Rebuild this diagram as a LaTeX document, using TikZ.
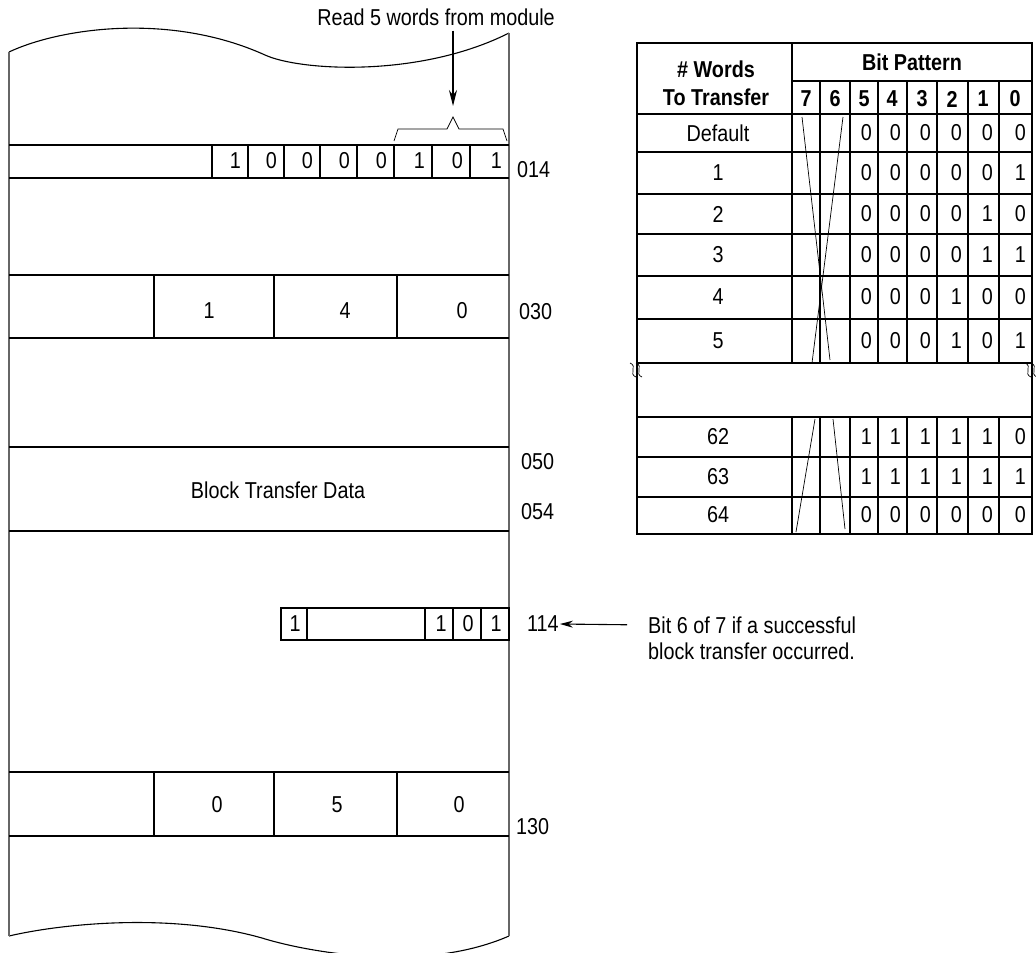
\documentclass[tikz,border=0pt]{standalone}
\usepackage{fontspec}
\setmainfont{Liberation Sans}[FakeStretch=0.86]
\usetikzlibrary{arrows.meta,positioning}

% small break mark on a table border
\newcommand{\brkmark}[2]{%
  \foreach \dx in {-3,3}
    \draw[thinln] ({#1+\dx-3},{#2-7}) .. controls ({#1+\dx+5},{#2-4}) and ({#1+\dx-5},{#2+4}) .. ({#1+\dx+3},{#2+7});}

\begin{document}
\begin{tikzpicture}[
  x=1pt, y=-1pt,
  >=Stealth,
  every node/.style={font=\fontsize{23}{27}\selectfont, inner sep=0pt},
  hd/.style={font=\fontsize{23}{27}\selectfont\bfseries},
  ln/.style={line width=1.1pt},
  bord/.style={line width=1.5pt, black!60},
  thinln/.style={line width=0.7pt},
  arr/.style={-{Stealth[length=16pt,width=8pt]}, line width=1.1pt},
  arrs/.style={-{Stealth[length=13pt,width=7pt]}, line width=1.1pt}
]
\useasboundingbox (0,0) rectangle (1036,953);

%% Memory block outline
\draw[ln] (9,52) .. controls (60,28) and (170,12) .. (265,55)
          .. controls (300,71) and (420,78) .. (509,33);
\draw[ln] (9,936) .. controls (60,924) and (170,912) .. (262,938)
          .. controls (300,950) and (420,975) .. (509,936);
\draw[bord] (9,52) -- (9,936);
\draw[bord] (509,33) -- (509,936);

%% Word boundaries
\foreach \y in {145,178,275,338,447,531,772,836}
  \draw[ln] (9,\y) -- (509,\y);

%% Word 014
\foreach \x in {212,248,284,320,357,394,432,470}
  \draw[ln] (\x,145) -- (\x,178);
\foreach \xr/\d [count=\i] in {248/1,284/0,320/0,357/0,394/0,432/1,470/0,509/1}
  \node[anchor=east] (wa\i) at (\xr-7,161) {\d};
\node[anchor=west] (l014) at (517,170) {014};

%% Brace and read arrow
\draw[thinln] (394,141) -- (398,129) -- (447,129) -- (453,117) -- (459,129)
              -- (503,129) -- (507,141);
\coordinate (brtip) at (453,106);
\node (rdtitle) at (436,17) {Read 5 words from module};
\draw[arr, shorten <=5pt] (rdtitle.south -| brtip) -- (brtip);

%% Word 030
\foreach \x in {154,274,397}
  \draw[ln] (\x,275) -- (\x,338);
\node (wb1) at (209,311) {1};
\node (wb2) at (345,311) {4};
\node (wb3) at (462,311) {0};
\node[anchor=west] (l030) at (519,312) {030};

%% Block transfer data
\node (btd) at (278,490) {Block Transfer Data};
\node[anchor=west] (l050) at (521,462) {050};
\node[anchor=west] (l054) at (521,512) {054};

%% Word 114
\draw[ln] (281,608) rectangle (509,640);
\foreach \x in {307,425,453,481}
  \draw[ln] (\x,608) -- (\x,640);
\node (wc1) at (295,624) {1};
\node (wc2) at (441,624) {1};
\node (wc3) at (468,624) {0};
\node (wc4) at (496,624) {1};
\node[anchor=west] (l114) at (527,624) {114};
\node[anchor=west] (note1) at (648,625) {Bit 6 of 7 if a successful};
\node[anchor=west] (note2) at (648,651) {block transfer occurred.};
\draw[arrs, shorten <=21pt, shorten >=1pt] (note1.west) -- (l114.east);

%% Word 130
\foreach \x in {154,274,397}
  \draw[ln] (\x,772) -- (\x,836);
\node (wd1) at (217,805) {0};
\node (wd2) at (337,805) {5};
\node (wd3) at (459,805) {0};
\node[anchor=west] (l130) at (516,827) {130};

%% Bit pattern table
\draw[ln] (637,43) rectangle (1032,534);
\draw[ln] (792,43) -- (792,363) (792,417) -- (792,534);
\draw[ln] (792,81) -- (1032,81);
\foreach \x in {820,850,878,907,937,968,999}
  \draw[ln] (\x,81) -- (\x,363) (\x,417) -- (\x,534);
\foreach \y in {114,152,194,234,276,319,363,417,457,497}
  \draw[ln] (637,\y) -- (1032,\y);

\node[hd] (hwords) at (716,69) {\# Words};
\node[hd] (hxfer) at (716,97) {To Transfer};
\node[hd] (hbits) at (912,62) {Bit Pattern};
\foreach \xc/\b in {806/7,835/6,864/5,892/4,922/3,952/2,983/1,1015/0}
  \node[hd] (hb\b) at (\xc,99) {\b};

\foreach \yc/\lab/\bits [count=\r] in {133/Default/{0,0,0,0,0,0},
    173/1/{0,0,0,0,0,1}, 214/2/{0,0,0,0,1,0}, 255/3/{0,0,0,0,1,1},
    297/4/{0,0,0,1,0,0}, 341/5/{0,0,0,1,0,1}, 437/62/{1,1,1,1,1,0},
    477/63/{1,1,1,1,1,1}, 515/64/{0,0,0,0,0,0}}{
  \node (rw\r) at (718,\yc) {\lab};
  \foreach \b [count=\c] in \bits {
    \pgfmathsetmacro\xr{{878,907,937,968,999,1032}[\c-1]}
    \node[anchor=east] (rw\r b\c) at (\xr-6,\yc) {\b};
  }
}

%% Bits 7 and 6 unused
\draw[thinln] (802,117) -- (830,360);
\draw[thinln] (843,117) -- (812,363);
\draw[thinln] (815,419) -- (796,532);
\draw[thinln] (833,419) -- (845,529);

%% Break marks
\brkmark{636}{370}
\brkmark{1031}{370}
\end{tikzpicture}
\end{document}
